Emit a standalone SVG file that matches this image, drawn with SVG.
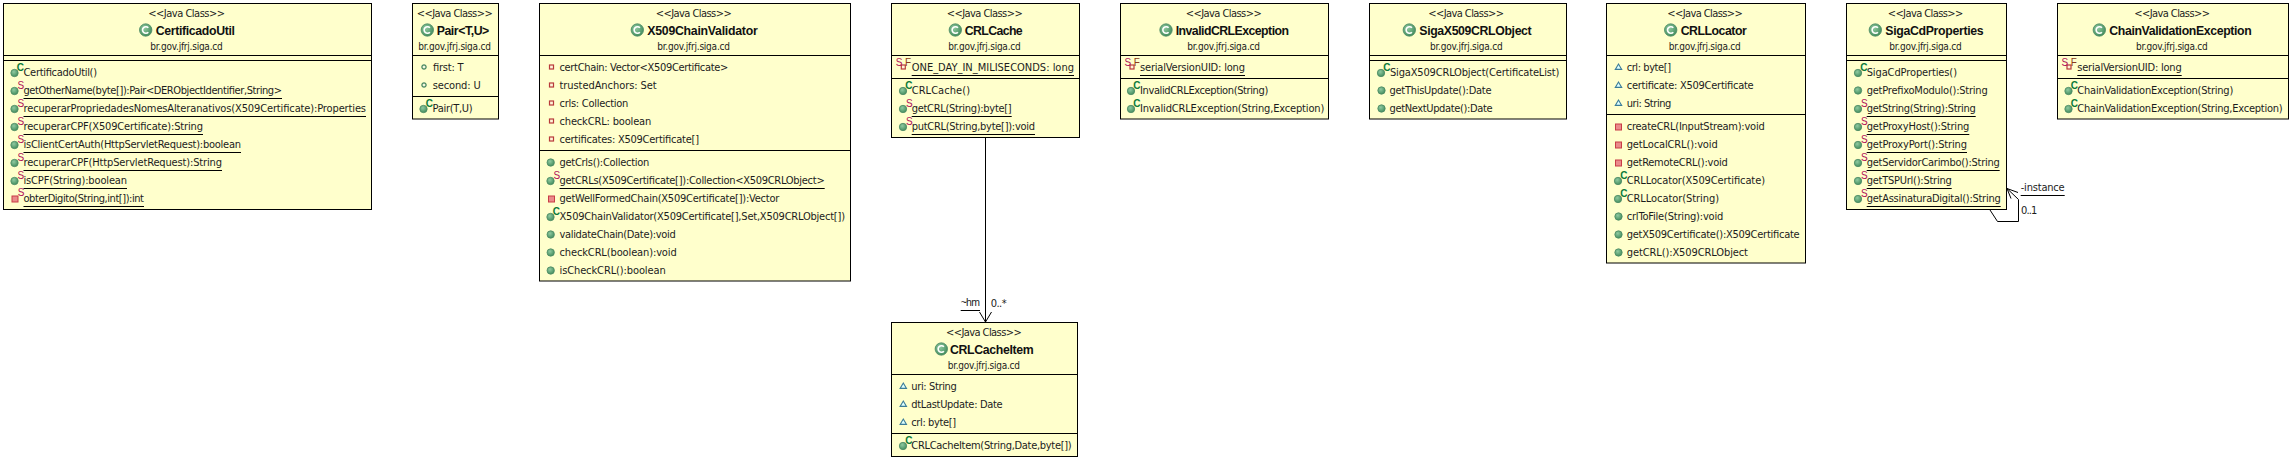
<svg xmlns="http://www.w3.org/2000/svg" width="2292" height="460" viewBox="0 0 2292 460">
<style>
text{font-family:"DejaVu Sans","Liberation Sans",sans-serif;font-stretch:condensed;fill:#1c1c1c}
.h,.r,.l{font-size:11px}
.t{font-family:"Liberation Sans",sans-serif;font-stretch:normal;font-size:12.3px;font-weight:bold;fill:#111}
.p{font-size:10px}
.b{fill:#ffffcc;stroke:#000;stroke-width:1}
.d,.u,.c{stroke:#000;stroke-width:1;fill:none}
.mk{font-size:10px;font-family:"Liberation Sans",sans-serif;font-stretch:normal}
.lh{font-family:"Liberation Sans",sans-serif;font-stretch:normal;font-size:10.5px}
</style>
<defs>
<radialGradient id="gd" cx="40%" cy="35%" r="70%"><stop offset="0" stop-color="#8fc9a0"/><stop offset="1" stop-color="#3f8a5a"/></radialGradient>
<g id="dot"><circle r="3.7" fill="url(#gd)" stroke="#4d8a65" stroke-width=".8"/></g>
<g id="msq"><rect x="-3" y="-3" width="6" height="6" fill="#ea8a8a" stroke="#c83c46" stroke-width="1"/></g>
<g id="mc"><use href="#dot"/><text class="mk" x="2.2" y="-2.2" style="fill:#0a7a3a;font-weight:bold">C</text></g>
<g id="ms"><use href="#dot"/><text class="mk" x="3" y="-2" style="fill:#b0105a">S</text></g>
<g id="mps"><use href="#msq"/><text class="mk" x="2.7" y="-3" style="fill:#b0105a">S</text></g>
<g id="fpr"><rect x="-2" y="-2" width="4" height="4" fill="#fff4d8" stroke="#b83a3a" stroke-width="1.2"/></g>
<g id="fpk"><path d="M-3.2 2.4H3.2L0-3Z" fill="#dff" stroke="#3c7c98" stroke-width="1.1"/></g>
<g id="fpu"><circle r="2.1" fill="#f2f8de" stroke="#4d8a65" stroke-width="1.3"/></g>
<g id="fsf"><rect x="-2" y="-2" width="4" height="4" fill="#fff4d8" stroke="#b83a3a" stroke-width="1.2"/><text class="mk" x="-7.6" y="-1" style="fill:#b0105a">S</text><text class="mk" x="1.7" y="-1" style="fill:#8a3a20">F</text></g>
<g id="cl"><circle r="6.2" fill="url(#gd)" stroke="#4d8a65" stroke-width=".8"/><path d="M2.6-2.2A3.3 3.3 0 1 0 2.6 2.2" fill="none" stroke="#fff" stroke-width="1.6"/></g>
</defs>
<rect width="2292" height="460" fill="#fff"/>

<g id="CertificadoUtil">
<rect class="b" x="3.5" y="3.5" width="368" height="206"/>
<path class="d" d="M3.5 55.5H371.5M3.5 60.5H371.5"/>
<text class="h" x="148.3" y="17" textLength="76.7">&lt;&lt;Java Class&gt;&gt;</text>
<use href="#cl" x="145.7" y="30"/>
<text class="t" x="155.7" y="34.5" textLength="79.3">CertificadoUtil</text>
<text class="p" x="150.3" y="49.5" textLength="72.4">br.gov.jfrj.siga.cd</text>
<use href="#mc" x="14.5" y="73"/><text class="r" x="23.5" y="76" textLength="73.5">CertificadoUtil()</text>
<use href="#ms" x="14.5" y="91"/><text class="r" x="23.5" y="94" textLength="258.5">getOtherName(byte[]):Pair&lt;DERObjectIdentifier,String&gt;</text>
<use href="#ms" x="14.5" y="109"/><text class="r" x="23.5" y="112" textLength="342.5">recuperarPropriedadesNomesAlteranativos(X509Certificate):Properties</text>
<use href="#ms" x="14.5" y="127"/><text class="r" x="23.5" y="130" textLength="179.5">recuperarCPF(X509Certificate):String</text>
<use href="#ms" x="14.5" y="145"/><text class="r" x="23.5" y="148" textLength="217.5">isClientCertAuth(HttpServletRequest):boolean</text>
<use href="#ms" x="14.5" y="163"/><text class="r" x="23.5" y="166" textLength="198.5">recuperarCPF(HttpServletRequest):String</text>
<use href="#ms" x="14.5" y="181"/><text class="r" x="23.5" y="184" textLength="103.5">isCPF(String):boolean</text>
<use href="#mps" x="15" y="199"/><text class="r" x="23.5" y="202" textLength="120.5">obterDigito(String,int[]):int</text>
<path class="u" d="M23.5 98.5H282M23.5 116.5H366M23.5 134.5H203M23.5 152.5H241M23.5 170.5H222M23.5 188.5H127M23.5 206.5H144"/>
</g>

<g id="Pair">
<rect class="b" x="412.5" y="3.5" width="86" height="115.5"/>
<path class="d" d="M412.5 55.5H498.5M412.5 96.5H498.5"/>
<text class="h" x="416.7" y="17" textLength="76">&lt;&lt;Java Class&gt;&gt;</text>
<use href="#cl" x="427.3" y="30"/>
<text class="t" x="436.7" y="34.5" textLength="52.6">Pair&lt;T,U&gt;</text>
<text class="p" x="418.3" y="49.5" textLength="72.7">br.gov.jfrj.siga.cd</text>
<use href="#fpu" x="424" y="67"/><text class="r" x="432.7" y="71" textLength="30.6">first: T</text>
<use href="#fpu" x="424" y="85"/><text class="r" x="432.7" y="89" textLength="48">second: U</text>
<use href="#mc" x="423.5" y="109"/><text class="r" x="432.5" y="112" textLength="40.2">Pair(T,U)</text>
</g>

<g id="X509ChainValidator">
<rect class="b" x="539.5" y="3.5" width="311" height="277.5"/>
<path class="d" d="M539.5 55.5H850.5M539.5 150.5H850.5"/>
<text class="h" x="655.7" y="17" textLength="76">&lt;&lt;Java Class&gt;&gt;</text>
<use href="#cl" x="637.3" y="30"/>
<text class="t" x="647.3" y="34.5" textLength="110.4">X509ChainValidator</text>
<text class="p" x="657.3" y="49.5" textLength="72.7">br.gov.jfrj.siga.cd</text>
<use href="#fpr" x="551.5" y="67"/><text class="r" x="559.5" y="71" textLength="168.8">certChain: Vector&lt;X509Certificate&gt;</text>
<use href="#fpr" x="551.5" y="85"/><text class="r" x="559.5" y="89" textLength="97.2">trustedAnchors: Set</text>
<use href="#fpr" x="551.5" y="103"/><text class="r" x="559.5" y="107" textLength="68.8">crls: Collection</text>
<use href="#fpr" x="551.5" y="121"/><text class="r" x="559.5" y="125" textLength="91.8">checkCRL: boolean</text>
<use href="#fpr" x="551.5" y="139"/><text class="r" x="559.5" y="143" textLength="139.5">certificates: X509Certificate[]</text>
<use href="#dot" x="550.7" y="162.5"/><text class="r" x="559.5" y="166" textLength="89.8">getCrls():Collection</text>
<use href="#ms" x="550.5" y="181"/><text class="r" x="559.5" y="184" textLength="265.2">getCRLs(X509Certificate[]):Collection&lt;X509CRLObject&gt;</text>
<use href="#msq" x="551.5" y="199"/><text class="r" x="559.5" y="202" textLength="219.8">getWellFormedChain(X509Certificate[]):Vector</text>
<use href="#mc" x="550.5" y="217"/><text class="r" x="559.5" y="220" textLength="285.5">X509ChainValidator(X509Certificate[],Set,X509CRLObject[])</text>
<use href="#dot" x="550.7" y="234.5"/><text class="r" x="559.5" y="238" textLength="116.2">validateChain(Date):void</text>
<use href="#dot" x="550.7" y="252.5"/><text class="r" x="559.5" y="256" textLength="117.2">checkCRL(boolean):void</text>
<use href="#dot" x="550.7" y="270.5"/><text class="r" x="559.5" y="274" textLength="106.2">isCheckCRL():boolean</text>
<path class="u" d="M559.5 188.5H824.7"/>
</g>

<g id="CRLCache">
<rect class="b" x="891.5" y="3.5" width="188" height="134"/>
<path class="d" d="M891.5 55.5H1079.5M891.5 78.5H1079.5"/>
<text class="h" x="946.7" y="17" textLength="76">&lt;&lt;Java Class&gt;&gt;</text>
<use href="#cl" x="955.3" y="30"/>
<text class="t" x="964.7" y="34.5" textLength="58">CRLCache</text>
<text class="p" x="948.3" y="49.5" textLength="72.4">br.gov.jfrj.siga.cd</text>
<use href="#fsf" x="903.3" y="67"/><text class="r" x="911.7" y="71" textLength="162.3">ONE_DAY_IN_MILISECONDS: long</text>
<use href="#mc" x="903" y="91"/><text class="r" x="911.7" y="94" textLength="58.3">CRLCache()</text>
<use href="#ms" x="903" y="109"/><text class="r" x="911.7" y="112" textLength="100">getCRL(String):byte[]</text>
<use href="#ms" x="903" y="127"/><text class="r" x="911.7" y="130" textLength="123.3">putCRL(String,byte[]):void</text>
<path class="u" d="M911.7 75.5H1074M911.7 116.5H1011.7M911.7 134.5H1035"/>
</g>

<g id="CRLCacheItem">
<rect class="b" x="891.5" y="322.5" width="186" height="134"/>
<path class="d" d="M891.5 374.5H1077.5M891.5 433.5H1077.5"/>
<text class="h" x="946" y="336" textLength="75.7">&lt;&lt;Java Class&gt;&gt;</text>
<use href="#cl" x="941.3" y="349"/>
<text class="t" x="950" y="353.5" textLength="83.7">CRLCacheItem</text>
<text class="p" x="947.7" y="368.5" textLength="72.3">br.gov.jfrj.siga.cd</text>
<use href="#fpk" x="903.3" y="386"/><text class="r" x="911.3" y="390" textLength="45.4">uri: String</text>
<use href="#fpk" x="903.3" y="404"/><text class="r" x="911.3" y="408" textLength="91.4">dtLastUpdate: Date</text>
<use href="#fpk" x="903.3" y="422"/><text class="r" x="911.3" y="426" textLength="44.7">crl: byte[]</text>
<use href="#mc" x="903" y="446"/><text class="r" x="911.3" y="449" textLength="160.4">CRLCacheItem(String,Date,byte[])</text>
</g>

<g id="InvalidCRLException">
<rect class="b" x="1120.5" y="3.5" width="208" height="115.5"/>
<path class="d" d="M1120.5 55.5H1328.5M1120.5 78.5H1328.5"/>
<text class="h" x="1185.7" y="17" textLength="76">&lt;&lt;Java Class&gt;&gt;</text>
<use href="#cl" x="1166" y="30"/>
<text class="t" x="1175.7" y="34.5" textLength="113.3">InvalidCRLException</text>
<text class="p" x="1187.3" y="49.5" textLength="72.7">br.gov.jfrj.siga.cd</text>
<use href="#fsf" x="1132" y="67"/><text class="r" x="1140" y="71" textLength="105">serialVersionUID: long</text>
<use href="#mc" x="1131" y="91"/><text class="r" x="1140" y="94" textLength="128.3">InvalidCRLException(String)</text>
<use href="#mc" x="1131" y="109"/><text class="r" x="1140" y="112" textLength="184.3">InvalidCRLException(String,Exception)</text>
<path class="u" d="M1140 75.5H1245"/>
</g>

<g id="SigaX509CRLObject">
<rect class="b" x="1369.5" y="3.5" width="197" height="115.5"/>
<path class="d" d="M1369.5 55.5H1566.5M1369.5 60.5H1566.5"/>
<text class="h" x="1428.3" y="17" textLength="75.7">&lt;&lt;Java Class&gt;&gt;</text>
<use href="#cl" x="1409.3" y="30"/>
<text class="t" x="1419.3" y="34.5" textLength="112.4">SigaX509CRLObject</text>
<text class="p" x="1430" y="49.5" textLength="72.7">br.gov.jfrj.siga.cd</text>
<use href="#mc" x="1381" y="73"/><text class="r" x="1390" y="76" textLength="169.3">SigaX509CRLObject(CertificateList)</text>
<use href="#dot" x="1381.5" y="90.5"/><text class="r" x="1389.5" y="94" textLength="102">getThisUpdate():Date</text>
<use href="#dot" x="1381.5" y="108.5"/><text class="r" x="1389.5" y="112" textLength="103">getNextUpdate():Date</text>
</g>

<g id="CRLLocator">
<rect class="b" x="1606.5" y="3.5" width="199" height="259.5"/>
<path class="d" d="M1606.5 55.5H1805.5M1606.5 114.5H1805.5"/>
<text class="h" x="1667.3" y="17" textLength="75.4">&lt;&lt;Java Class&gt;&gt;</text>
<use href="#cl" x="1670.7" y="30"/>
<text class="t" x="1680.7" y="34.5" textLength="66">CRLLocator</text>
<text class="p" x="1668.7" y="49.5" textLength="72">br.gov.jfrj.siga.cd</text>
<use href="#fpk" x="1618.5" y="67"/><text class="r" x="1626.7" y="71" textLength="44.3">crl: byte[]</text>
<use href="#fpk" x="1618.5" y="85"/><text class="r" x="1626.7" y="89" textLength="127">certificate: X509Certificate</text>
<use href="#fpk" x="1618.5" y="103"/><text class="r" x="1626.7" y="107" textLength="44.6">uri: String</text>
<use href="#msq" x="1618.5" y="127"/><text class="r" x="1626.7" y="130" textLength="138">createCRL(InputStream):void</text>
<use href="#msq" x="1618.5" y="145"/><text class="r" x="1626.7" y="148" textLength="91">getLocalCRL():void</text>
<use href="#msq" x="1618.5" y="163"/><text class="r" x="1626.7" y="166" textLength="101">getRemoteCRL():void</text>
<use href="#mc" x="1618" y="181"/><text class="r" x="1626.7" y="184" textLength="138.3">CRLLocator(X509Certificate)</text>
<use href="#mc" x="1618" y="199"/><text class="r" x="1626.7" y="202" textLength="92.3">CRLLocator(String)</text>
<use href="#dot" x="1618.5" y="216.5"/><text class="r" x="1626.7" y="220" textLength="96.6">crlToFile(String):void</text>
<use href="#dot" x="1618.5" y="234.5"/><text class="r" x="1626.7" y="238" textLength="173">getX509Certificate():X509Certificate</text>
<use href="#dot" x="1618.5" y="252.5"/><text class="r" x="1626.7" y="256" textLength="121.3">getCRL():X509CRLObject</text>
</g>

<g id="SigaCdProperties">
<rect class="b" x="1846.5" y="3.5" width="160" height="206"/>
<path class="d" d="M1846.5 55.5H2006.5M1846.5 60.5H2006.5"/>
<text class="h" x="1887.7" y="17" textLength="75.6">&lt;&lt;Java Class&gt;&gt;</text>
<use href="#cl" x="1875.3" y="30"/>
<text class="t" x="1885.3" y="34.5" textLength="98.4">SigaCdProperties</text>
<text class="p" x="1889.3" y="49.5" textLength="72.4">br.gov.jfrj.siga.cd</text>
<use href="#mc" x="1858" y="73"/><text class="r" x="1866.7" y="76" textLength="90.3">SigaCdProperties()</text>
<use href="#dot" x="1858" y="90.5"/><text class="r" x="1866.7" y="94" textLength="121">getPrefixoModulo():String</text>
<use href="#ms" x="1858" y="109"/><text class="r" x="1866.7" y="112" textLength="109">getString(String):String</text>
<use href="#ms" x="1858" y="127"/><text class="r" x="1866.7" y="130" textLength="102.6">getProxyHost():String</text>
<use href="#ms" x="1858" y="145"/><text class="r" x="1866.7" y="148" textLength="100.3">getProxyPort():String</text>
<use href="#ms" x="1858" y="163"/><text class="r" x="1866.7" y="166" textLength="133">getServidorCarimbo():String</text>
<use href="#ms" x="1858" y="181"/><text class="r" x="1866.7" y="184" textLength="85">getTSPUrl():String</text>
<use href="#ms" x="1858" y="199"/><text class="r" x="1866.7" y="202" textLength="134">getAssinaturaDigital():String</text>
<path class="u" d="M1866.7 116.5H1975.7M1866.7 134.5H1969.3M1866.7 152.5H1967M1866.7 170.5H1999.7M1866.7 188.5H1951.7M1866.7 206.5H2000.7"/>
</g>

<g id="ChainValidationException">
<rect class="b" x="2057.5" y="3.5" width="231" height="115.5"/>
<path class="d" d="M2057.5 55.5H2288.5M2057.5 78.5H2288.5"/>
<text class="h" x="2134.3" y="17" textLength="75.7">&lt;&lt;Java Class&gt;&gt;</text>
<use href="#cl" x="2099.3" y="30"/>
<text class="t" x="2109.3" y="34.5" textLength="142.4">ChainValidationException</text>
<text class="p" x="2136" y="49.5" textLength="71.7">br.gov.jfrj.siga.cd</text>
<use href="#fsf" x="2069" y="67"/><text class="r" x="2077.3" y="71" textLength="104.4">serialVersionUID: long</text>
<use href="#mc" x="2068.5" y="91"/><text class="r" x="2077.3" y="94" textLength="156">ChainValidationException(String)</text>
<use href="#mc" x="2068.5" y="109"/><text class="r" x="2077.3" y="112" textLength="205.4">ChainValidationException(String,Exception)</text>
<path class="u" d="M2077.3 75.5H2181.7"/>
</g>

<g id="connectors">
<path class="c" d="M985.5 137.5V322M979.5 312L985.5 322L991.5 312"/>
<path class="c" d="M1990 210L1997.5 221.5H2018.5V199.5L2007 188.5M2007 188.5L2018 192.5M2007 188.5L2011 198.5"/>
<text class="lh" x="960.7" y="306" textLength="19.3">~hm</text>
<path class="u" d="M960.7 310.5H980"/>
<text class="l" x="990.7" y="307" textLength="16">0..*</text>
<text class="l" x="2020.7" y="191" textLength="44">-instance</text>
<path class="u" d="M2020.7 195.5H2064.7"/>
<text class="l" x="2021" y="214" textLength="16.3">0..1</text>
</g>
</svg>
